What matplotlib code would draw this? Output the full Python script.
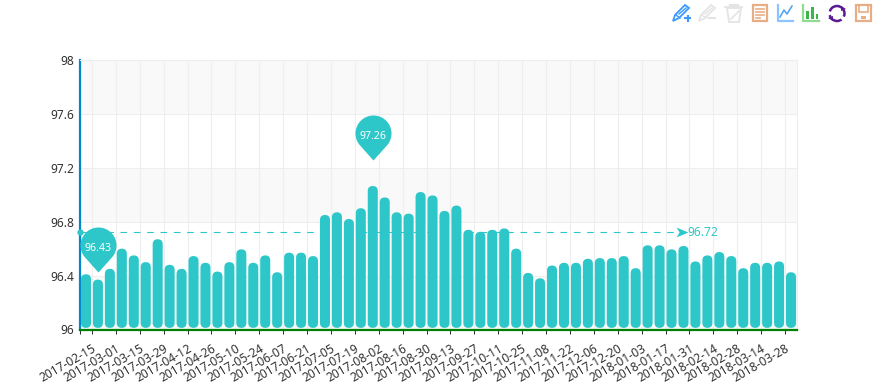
import numpy as np
import matplotlib
matplotlib.use("Agg")
import matplotlib.pyplot as plt
from matplotlib.patches import FancyBboxPatch, Rectangle, Circle, Polygon
from matplotlib.path import Path

plt.rcParams['font.family'] = ['Noto Sans', 'DejaVu Sans']

# values
week_labels = ['2017-02-15', '2017-03-01', '2017-03-15', '2017-03-29', '2017-04-12', '2017-04-26',
               '2017-05-10', '2017-05-24', '2017-06-07', '2017-06-21', '2017-07-05', '2017-07-19',
               '2017-08-02', '2017-08-16', '2017-08-30', '2017-09-13', '2017-09-27', '2017-10-11',
               '2017-10-25', '2017-11-08', '2017-11-22', '2017-12-06', '2017-12-20', '2018-01-03',
               '2018-01-17', '2018-01-31', '2018-02-14', '2018-02-28', '2018-03-14', '2018-03-28']
bar_values = [96.41, 96.37, 96.45, 96.60, 96.55, 96.50, 96.67, 96.48, 96.45, 96.545,
              96.495, 96.43, 96.50, 96.595, 96.495, 96.55, 96.425, 96.57, 96.57, 96.545,
              96.85, 96.87, 96.82, 96.90, 97.065, 96.98, 96.87, 96.86, 97.02, 96.995,
              96.88, 96.92, 96.74, 96.725, 96.74, 96.75, 96.60, 96.42, 96.38, 96.475,
              96.495, 96.495, 96.525, 96.53, 96.53, 96.545, 96.455, 96.625, 96.625, 96.595,
              96.62, 96.505, 96.55, 96.575, 96.545, 96.455, 96.495, 96.495, 96.505, 96.425]
y_ticks = [96, 96.4, 96.8, 97.2, 97.6, 98]
max_point = (24, 97.26)
min_point = (1, 96.43)
mean_value = 96.72
mean_end = 49.85

teal = '#2ec7c9'
W, H = 876, 388
fig = plt.figure(figsize=(W / 100, H / 100), dpi=100)
ax = fig.add_axes([80 / W, 1 - 329.5 / H, 717 / W, 269.5 / H])
ax.set_xlim(-0.5, 59.5)
ax.set_ylim(96, 98)

# banded background
for k in range(len(y_ticks) - 1):
    if k % 2 == 0:
        ax.add_patch(Rectangle((-0.5, y_ticks[k]), 60, 0.4, fc='#f9f9f9', ec='none', zorder=0))
ax.set_yticks(y_ticks, ['96', '96.4', '96.8', '97.2', '97.6', '98'])
tick_pos = [0.5 + 2 * i for i in range(len(week_labels))]
ax.set_xticks([-0.5] + tick_pos, [''] + week_labels, rotation=30, ha='right', rotation_mode='anchor',
              fontsize=8.64, color='#333333')
ax.grid(True, color='#eeeeee', lw=0.75)
ax.set_axisbelow(True)
ax.tick_params(axis='y', length=0, pad=4, labelsize=8.64, labelcolor='#333333')
ax.tick_params(axis='x', length=3, width=0.75, color='#333333', pad=6)

for s in ['top', 'right']:
    ax.spines[s].set_color('#eeeeee')
    ax.spines[s].set_linewidth(0.75)
ax.spines['left'].set_color('#0087cc')
ax.spines['left'].set_linewidth(1.6)
ax.spines['bottom'].set_color('#008000')
ax.spines['bottom'].set_linewidth(1.6)

# mean line goes under the bars
ax.plot([-0.5, mean_end], [mean_value, mean_value], color=teal, lw=0.8, ls=(0, (6, 6)), zorder=2)
ax.plot([-0.5], [mean_value], 'o', color=teal, ms=3.5, clip_on=False, zorder=4)
arrow = Path([(-6, -5), (6, 0), (-6, 5), (-3, 0), (-6, -5)], closed=True)
ax.plot([mean_end], [mean_value], marker=arrow, color=teal, ms=8.5, mew=0, zorder=4)
ax.annotate(str(mean_value), (mean_end, mean_value), xytext=(4, 0), textcoords='offset points',
            color=teal, fontsize=8.64, va='center', ha='left')

# rounded bars
ax_aspect = 0.0888
for i, v in enumerate(bar_values):
    ax.add_patch(FancyBboxPatch((i - 0.42, 96.012), 0.84, v - 96.012,
                                boxstyle='round,pad=0,rounding_size=0.42',
                                mutation_aspect=ax_aspect, fc=teal, ec='none', zorder=3))

# pin markers for max and min
a = np.deg2rad(np.linspace(-41.8, 221.8, 60))
pin = np.column_stack([18 * np.cos(a), 27 + 18 * np.sin(a)])
pin = Path(np.vstack([[0, 0], pin, [0, 0]]), closed=True)
for x, v in [max_point, min_point]:
    ax.plot([x], [v], marker=pin, color=teal, ms=64.8, mew=0, zorder=5, clip_on=False)
    ax.annotate(f'{v:.2f}', (x, v), xytext=(0, 16.5), textcoords='offset points', color='white',
                fontsize=7.6, fontweight='bold', ha='center', va='center', zorder=6)

# toolbox icons, in pixel coordinates
tb = fig.add_axes([0, 0, 1, 1])
tb.set_xlim(0, W)
tb.set_ylim(H, 0)
tb.axis('off')
tb.patch.set_alpha(0)


def pencil(x, c):
    tb.add_patch(Polygon([(x, 21), (x + 2, 15), (x + 12, 5), (x + 16, 8), (x + 6, 18)], closed=True,
                         fc='none', ec=c, lw=1.3))
    tb.plot([x + 3, x + 7], [15, 18], color=c, lw=1)
    tb.plot([x + 6, x + 13], [14, 8], color=c, lw=1)


pencil(673, '#3e98ff')
tb.plot([685, 690], [18, 18], color='#3e98ff', lw=1.5)
tb.plot([687.5, 687.5], [15.5, 20.5], color='#3e98ff', lw=1.5)
pencil(699, '#e4e4e4')
tb.plot([709, 715], [18, 18], color='#e4e4e4', lw=1.5)
# trash
tb.add_patch(Polygon([(727, 8), (729, 22), (739, 22), (741, 8)], closed=True, fc='none', ec='#e4e4e4', lw=1.3))
tb.plot([725, 742], [7, 7], color='#e4e4e4', lw=1.3)
tb.plot([730, 738], [5, 5], color='#e4e4e4', lw=1.5)
tb.plot([731, 739], [19, 11], color='#e4e4e4', lw=1.2)
# data view
tb.add_patch(Rectangle((752.5, 5), 14, 16, fc='none', ec='#e8ad85', lw=1.6))
for yy, xe in [(9, 764), (12, 764), (15, 764), (18, 760)]:
    tb.plot([755.5, xe], [yy, yy], color='#e8ad85', lw=1.2)
# line type
tb.plot([777.5, 777.5, 793], [5, 20.5, 20.5], color='#8cc4ff', lw=1.6)
tb.plot([780, 784, 787, 792], [17, 10, 14, 6], color='#4aa0f5', lw=1.1)
# bar type
tb.plot([803, 803, 819], [5, 20.5, 20.5], color='#8fdc8f', lw=1.6)
for xb, top in [(806, 11), (811, 7), (815.5, 14)]:
    tb.add_patch(Rectangle((xb, top), 2.5, 19 - top, fc='#3cb54a', ec='none'))
# refresh
tb.add_patch(Circle((837, 13.5), 7.5, fc='none', ec='#5a1a92', lw=1.8, ls=(0, (6, 1.5))))
tb.add_patch(Polygon([(841, 6), (846, 9), (841, 11)], closed=True, fc='#5a1a92', ec='none'))
tb.add_patch(Polygon([(833, 16), (828, 18), (833, 21)], closed=True, fc='#5a1a92', ec='none'))
# save
tb.add_patch(Rectangle((855.5, 5), 15.5, 16, fc='none', ec='#e8ad85', lw=1.6))
tb.add_patch(Rectangle((859, 5), 8.5, 7, fc='none', ec='#e8ad85', lw=1.2))
tb.add_patch(Rectangle((860.5, 16), 5, 2.5, fc='#e8ad85', ec='none'))

fig.savefig('out.png', dpi=100, facecolor='white')
